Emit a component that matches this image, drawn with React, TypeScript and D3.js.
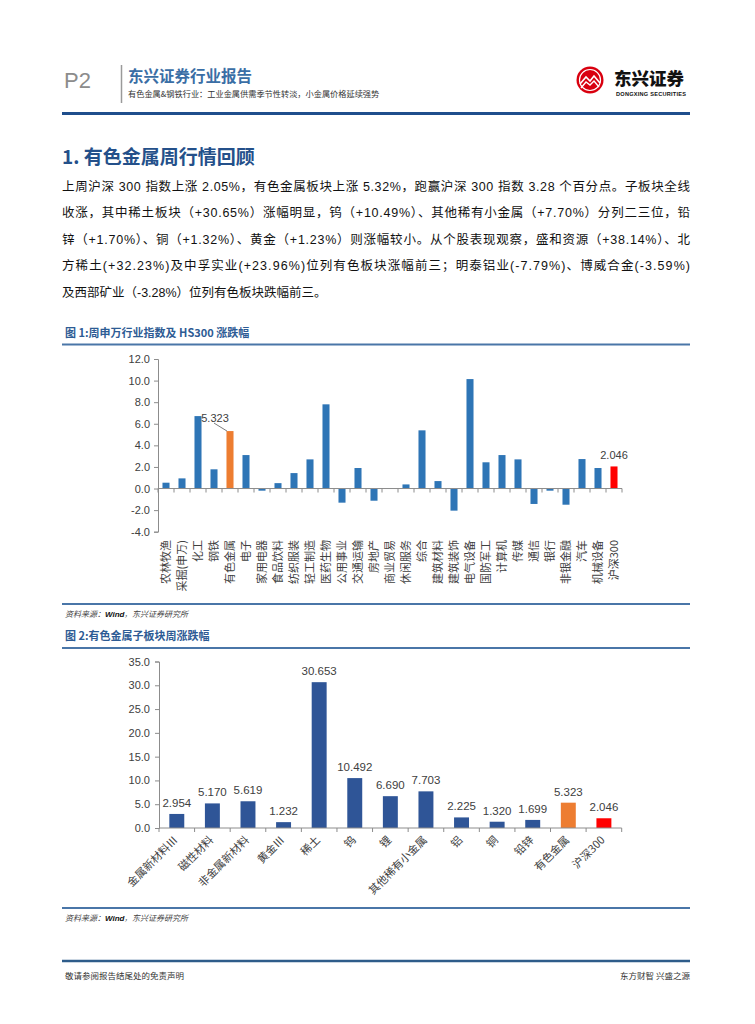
import React, { useEffect, useRef } from "react";
import * as d3 from "d3";

// Figure 1: Shenwan industry weekly change (%)
const industryNames = [
  "农林牧渔", "采掘(申万)", "化工", "钢铁", "有色金属", "电子", "家用电器", "食品饮料",
  "纺织服装", "轻工制造", "医药生物", "公用事业", "交通运输", "房地产", "商业贸易", "休闲服务",
  "综合", "建筑材料", "建筑装饰", "电气设备", "国防军工", "计算机", "传媒", "通信",
  "银行", "非银金融", "汽车", "机械设备", "沪深300",
];
const industryChanges = [
  0.54, 0.94, 6.71, 1.78, 5.323, 3.1, -0.2, 0.5,
  1.43, 2.7, 7.8, -1.31, 1.9, -1.13, 0.03, 0.38,
  5.39, 0.69, -2.05, 10.14, 2.43, 3.1, 2.7, -1.43,
  -0.2, -1.5, 2.73, 1.9, 2.046,
];
const chart1Ticks = [12, 10, 8, 6, 4, 2, 0, -2, -4];

// Figure 2: non-ferrous sub-sector weekly change (%)
const subsectorNames = [
  "金属新材料Ⅲ", "磁性材料", "非金属新材料", "黄金Ⅲ", "稀土", "钨", "锂",
  "其他稀有小金属", "铝", "铜", "铅锌", "有色金属", "沪深300",
];
const subsectorChanges = [2.954, 5.17, 5.619, 1.232, 30.653, 10.492, 6.69, 7.703, 2.225, 1.32, 1.699, 5.323, 2.046];
const chart2Ticks = [0, 5, 10, 15, 20, 25, 30, 35];

const bodyLines = [
  "上周沪深 300 指数上涨 2.05%，有色金属板块上涨 5.32%，跑赢沪深 300 指数 3.28 个百分点。子板块全线",
  "收涨，其中稀土板块（+30.65%）涨幅明显，钨（+10.49%）、其他稀有小金属（+7.70%）分列二三位，铅",
  "锌（+1.70%）、铜（+1.32%）、黄金（+1.23%）则涨幅较小。从个股表现观察，盛和资源（+38.14%）、北",
  "方稀土(+32.23%)及中孚实业(+23.96%)位列有色板块涨幅前三；明泰铝业(-7.79%)、博威合金(-3.59%)",
  "及西部矿业（-3.28%）位列有色板块跌幅前三。",
];

const FONT = '"Liberation Sans", "Noto Sans CJK SC", sans-serif';
const CJK = '"Noto Sans CJK SC", sans-serif';
const AXIS = "#8c8c8c";
const LABEL = "#404040";

export default function App() {
  const svgRef = useRef<SVGSVGElement>(null);

  useEffect(() => {
    if (!svgRef.current) return;
    const svg = d3.select(svgRef.current);
    svg.selectAll("*").remove();

    const text = (x: number, y: number, s: string, size: number, fill = "#222", weight = "normal", family = FONT) =>
      svg.append("text")
        .attr("x", x)
        .attr("y", y)
        .attr("fill", fill)
        .style("font-family", family)
        .style("font-size", `${size}px`)
        .style("font-weight", weight)
        .text(s);

    const rule = (y: number, color: string, w: number, x1 = 62, x2 = 690) =>
      svg.append("line")
        .attr("x1", x1).attr("x2", x2)
        .attr("y1", y).attr("y2", y)
        .attr("stroke", color)
        .attr("stroke-width", w);

    // ---- header ----
    text(64, 88, "P2", 22, "#8c8c8c");
    svg.append("line")
      .attr("x1", 121.5).attr("x2", 121.5)
      .attr("y1", 65).attr("y2", 103)
      .attr("stroke", "#9a9a9a").attr("stroke-width", 1.5);
    text(128, 82, "东兴证券行业报告", 15.5, "#3a6ea5", "bold", CJK);
    text(128, 96.5, "有色金属&钢铁行业：工业金属供需季节性转淡，小金属价格延续强势", 8.2, "#333", "normal", CJK);

    // logo
    const logo = svg.append("g").attr("transform", "translate(590,80)");
    logo.append("circle").attr("r", 13.5).attr("fill", "#d9000f");
    logo.append("circle").attr("r", 10.5).attr("fill", "none").attr("stroke", "#fff").attr("stroke-width", 1.2);
    logo.append("path")
      .attr("d", "M-10,4 L-4,-3 L0,1 L4,-4 L10,3")
      .attr("fill", "none").attr("stroke", "#fff").attr("stroke-width", 1.6);
    logo.append("path")
      .attr("d", "M-9,8 L-4,2 L0,5 L4,1 L9,7")
      .attr("fill", "none").attr("stroke", "#fff").attr("stroke-width", 1.4);
    text(614, 85, "东兴证券", 17.5, "#111", "900", CJK);
    text(616, 96, "DONGXING SECURITIES", 5.6, "#111", "bold").attr("textLength", 70);

    rule(113.5, "#1f4e8c", 3);

    // ---- section text ----
    text(62, 164, "1. 有色金属周行情回顾", 19, "#24508a", "bold", CJK);
    bodyLines.forEach((line, i) => {
      const t = text(62, 190.5 + i * 26.5, line, 12.5, "#111");
      if (i < bodyLines.length - 1) t.attr("textLength", 628).attr("lengthAdjust", "spacing");
    });

    // ---- figure 1 ----
    text(65, 337, "图 1:周申万行业指数及 HS300 涨跌幅", 11, "#2d5b94", "bold", CJK);
    rule(344.5, "#4a76a8", 2);

    const x1 = d3.scaleBand<string>().domain(industryNames).range([158, 622]);
    const y1 = d3.scaleLinear().domain([-4, 12]).range([531.7, 359]);
    const step1 = x1.step();
    const bw1 = step1 * 0.44;

    const yAxis1 = svg.append("g")
      .attr("transform", "translate(158,0)")
      .call(d3.axisLeft(y1).tickValues(chart1Ticks).tickFormat((d) => (d as number).toFixed(1)).tickSize(4).tickPadding(4));
    yAxis1.selectAll("text").style("font-family", FONT).style("font-size", "11px").attr("fill", LABEL);
    yAxis1.selectAll("line, path").attr("stroke", AXIS);

    const fill1 = (name: string) => (name === "有色金属" ? "#ed7d31" : name === "沪深300" ? "#ff0000" : "#2e75b6");
    svg.append("g")
      .selectAll("rect")
      .data(industryNames)
      .join("rect")
      .attr("x", (d) => (x1(d) as number) + step1 / 2 - bw1 / 2)
      .attr("y", (d, i) => y1(Math.max(0, industryChanges[i])))
      .attr("width", bw1)
      .attr("height", (d, i) => Math.abs(y1(industryChanges[i]) - y1(0)))
      .attr("fill", fill1);

    // x axis on zero line
    const zero1 = y1(0);
    svg.append("line").attr("x1", 158).attr("x2", 622).attr("y1", zero1).attr("y2", zero1).attr("stroke", AXIS);
    d3.range(industryNames.length + 1).forEach((i) => {
      const xx = 158 + i * step1;
      svg.append("line").attr("x1", xx).attr("x2", xx).attr("y1", zero1).attr("y2", zero1 + 4).attr("stroke", AXIS);
    });

    industryNames.forEach((name) => {
      svg.append("text")
        .attr("transform", `translate(${(x1(name) as number) + step1 / 2},540) rotate(-90)`)
        .attr("text-anchor", "end")
        .attr("dy", "0.35em")
        .attr("fill", LABEL)
        .style("font-family", CJK)
        .style("font-size", "11px")
        .text(name);
    });

    // data labels: 有色金属 (with leader) and 沪深300
    const iNf = industryNames.indexOf("有色金属");
    const nfX = (x1("有色金属") as number) + step1 / 2;
    const nfY = y1(industryChanges[iNf]);
    svg.append("line")
      .attr("x1", nfX - 16).attr("y1", nfY - 8)
      .attr("x2", nfX - 3).attr("y2", nfY)
      .attr("stroke", "#595959").attr("stroke-width", 0.8);
    text(nfX - 15, nfY - 9, industryChanges[iNf].toFixed(3), 11, LABEL).attr("text-anchor", "middle");
    const iHs = industryNames.indexOf("沪深300");
    text((x1("沪深300") as number) + step1 / 2, y1(industryChanges[iHs]) - 7, industryChanges[iHs].toFixed(3), 11, LABEL)
      .attr("text-anchor", "middle");

    rule(604, "#4a76a8", 2);
    text(65, 617, "资料来源：", 8, "#444", "normal", CJK).style("font-style", "italic");
    text(105, 617, "Wind", 8, "#111", "bold").style("font-style", "italic");
    text(124, 617, "，东兴证券研究所", 8, "#444", "normal", CJK).style("font-style", "italic");

    // ---- figure 2 ----
    text(65, 640, "图 2:有色金属子板块周涨跌幅", 11, "#2d5b94", "bold", CJK);
    rule(648, "#4a76a8", 2);

    const x2 = d3.scaleBand<string>().domain(subsectorNames).range([159, 621.7]);
    const y2 = d3.scaleLinear().domain([0, 35]).range([828, 661.5]);
    const step2 = x2.step();
    const bw2 = step2 * 0.42;

    const yAxis2 = svg.append("g")
      .attr("transform", "translate(159,0)")
      .call(d3.axisLeft(y2).tickValues(chart2Ticks).tickFormat((d) => (d as number).toFixed(1)).tickSize(4).tickPadding(5));
    yAxis2.selectAll("text").style("font-family", FONT).style("font-size", "11px").attr("fill", LABEL);
    yAxis2.selectAll("line, path").attr("stroke", AXIS);

    const fill2 = (name: string) => (name === "有色金属" ? "#ed7d31" : name === "沪深300" ? "#ff0000" : "#2f5597");
    svg.append("g")
      .selectAll("rect")
      .data(subsectorNames)
      .join("rect")
      .attr("x", (d) => (x2(d) as number) + step2 / 2 - bw2 / 2)
      .attr("y", (d, i) => y2(subsectorChanges[i]))
      .attr("width", bw2)
      .attr("height", (d, i) => y2(0) - y2(subsectorChanges[i]))
      .attr("fill", fill2);

    svg.append("line").attr("x1", 159).attr("x2", 621.7).attr("y1", y2(0)).attr("y2", y2(0)).attr("stroke", AXIS);
    d3.range(subsectorNames.length + 1).forEach((i) => {
      const xx = 159 + i * step2;
      svg.append("line").attr("x1", xx).attr("x2", xx).attr("y1", y2(0)).attr("y2", y2(0) + 4).attr("stroke", AXIS);
    });

    subsectorNames.forEach((name, i) => {
      const cx = (x2(name) as number) + step2 / 2;
      text(cx, y2(subsectorChanges[i]) - 7, subsectorChanges[i].toFixed(3), 11.5, LABEL).attr("text-anchor", "middle");
      svg.append("text")
        .attr("transform", `translate(${cx - 1},838) rotate(-45)`)
        .attr("text-anchor", "end")
        .attr("dy", "0.35em")
        .attr("fill", LABEL)
        .style("font-family", CJK)
        .style("font-size", "11px")
        .text(name);
    });

    rule(908, "#4a76a8", 2);
    text(65, 921, "资料来源：", 8, "#444", "normal", CJK).style("font-style", "italic");
    text(105, 921, "Wind", 8, "#111", "bold").style("font-style", "italic");
    text(124, 921, "，东兴证券研究所", 8, "#444", "normal", CJK).style("font-style", "italic");

    // ---- footer ----
    rule(961, "#2e5c8a", 2.5);
    text(65, 979, "敬请参阅报告结尾处的免责声明", 8.5, "#333", "normal", CJK);
    text(690, 979, "东方财智 兴盛之源", 8.5, "#333", "normal", CJK).attr("text-anchor", "end");
  }, []);

  return (
    <svg
      ref={svgRef}
      width={755}
      height={1024}
      style={{ display: "block", position: "absolute", left: 0, top: 0, background: "#fff" }}
    />
  );
}
